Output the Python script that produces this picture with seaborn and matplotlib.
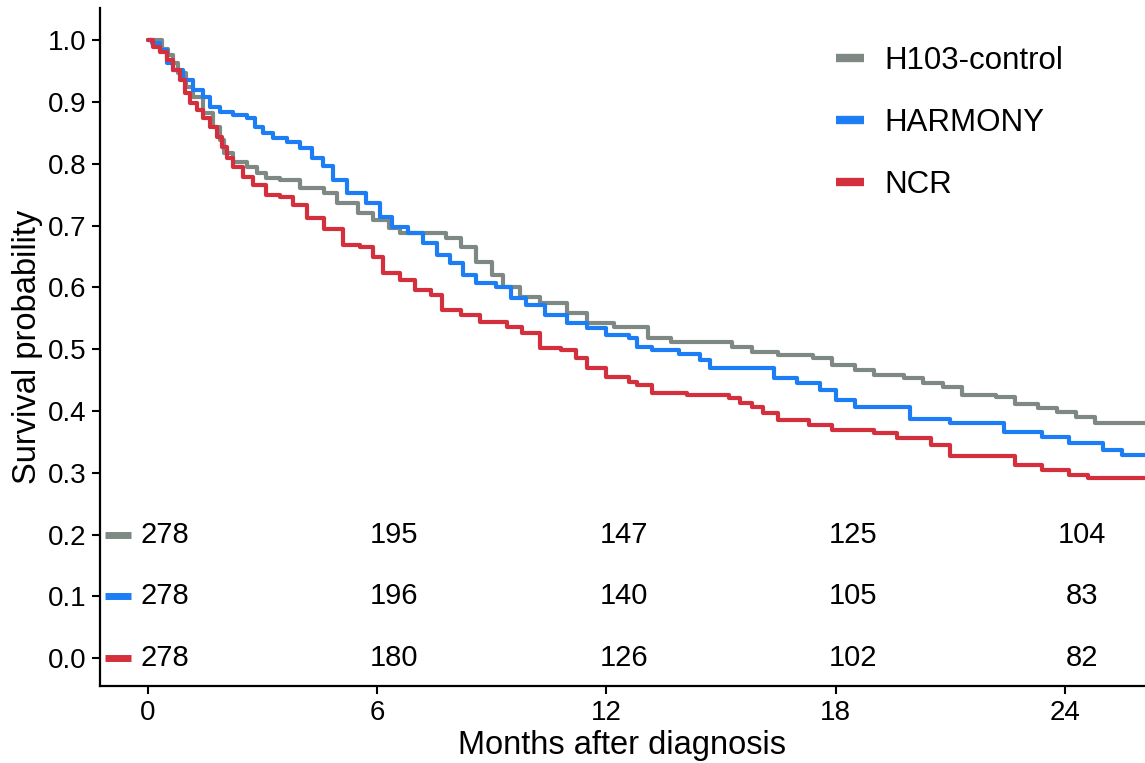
import numpy as np
import pandas as pd
import matplotlib
matplotlib.use("Agg")
import matplotlib.pyplot as plt
import seaborn as sns

# Kaplan-Meier curves (months, survival probability)
groups = ["H103-control", "HARMONY", "NCR"]
colors = ["#7e8984", "#1c7df4", "#d42f3d"]

t_ctrl = [0, 0.37, 0.52, 0.65, 0.79, 1.0, 1.18, 1.44, 1.7, 1.88, 2.0, 2.23, 2.6, 2.85,
          3.1, 3.45, 3.98, 4.6, 4.95, 5.5, 5.9, 6.3, 6.6, 7.8, 8.2, 8.6, 9.0, 9.3, 9.74,
          10.26, 10.97, 11.5, 12.2, 13.1, 13.7, 15.3, 15.8, 16.5, 17.4, 17.9, 18.5, 19.0,
          19.8, 20.3, 20.8, 21.3, 22.2, 22.7, 23.3, 23.8, 24.3, 24.8, 26.1]
s_ctrl = [1.0, 0.985, 0.976, 0.963, 0.947, 0.924, 0.908, 0.882, 0.859, 0.838, 0.817,
          0.803, 0.795, 0.785, 0.777, 0.773, 0.76, 0.752, 0.736, 0.72, 0.709, 0.696,
          0.688, 0.68, 0.665, 0.641, 0.62, 0.60, 0.584, 0.574, 0.558, 0.542, 0.536,
          0.518, 0.511, 0.503, 0.495, 0.49, 0.485, 0.474, 0.466, 0.458, 0.453, 0.445,
          0.439, 0.426, 0.422, 0.412, 0.405, 0.398, 0.39, 0.38, 0.38]

t_harm = [0, 0.1, 0.31, 0.5, 0.65, 0.92, 1.18, 1.44, 1.62, 1.88, 2.23, 2.6, 2.8, 3.0,
          3.28, 3.63, 3.98, 4.3, 4.58, 4.85, 5.2, 5.7, 6.07, 6.4, 6.8, 7.2, 7.56, 7.9,
          8.25, 8.6, 9.1, 9.5, 9.9, 10.4, 10.97, 11.5, 12.0, 12.6, 12.8, 13.2, 13.9,
          14.45, 14.7, 16.4, 17.0, 17.6, 18.0, 18.5, 19.95, 21.0, 22.4, 23.4, 24.1, 25.0,
          25.5, 26.1]
s_harm = [1.0, 0.995, 0.984, 0.963, 0.951, 0.935, 0.919, 0.908, 0.892, 0.884, 0.879,
          0.874, 0.859, 0.85, 0.841, 0.835, 0.825, 0.809, 0.797, 0.773, 0.752, 0.736,
          0.714, 0.697, 0.688, 0.671, 0.652, 0.639, 0.62, 0.607, 0.60, 0.582, 0.571,
          0.555, 0.542, 0.534, 0.523, 0.518, 0.503, 0.498, 0.493, 0.482, 0.469, 0.453,
          0.445, 0.434, 0.417, 0.406, 0.387, 0.38, 0.366, 0.358, 0.348, 0.337, 0.328,
          0.328]

t_ncr = [0, 0.13, 0.31, 0.5, 0.65, 0.84, 0.97, 1.1, 1.28, 1.44, 1.62, 1.8, 1.94, 2.07,
         2.23, 2.5, 2.75, 3.1, 3.45, 3.8, 4.15, 4.6, 5.1, 5.55, 5.9, 6.15, 6.6, 7.0, 7.4,
         7.7, 8.2, 8.7, 9.4, 9.8, 10.26, 10.8, 11.2, 11.5, 12.0, 12.6, 12.8, 13.2, 14.1,
         15.2, 15.5, 15.8, 16.1, 16.5, 17.3, 17.9, 19.0, 19.6, 20.5, 21.0, 22.7, 23.4,
         24.1, 24.6, 26.1]
s_ncr = [1.0, 0.989, 0.981, 0.968, 0.951, 0.935, 0.914, 0.898, 0.887, 0.874, 0.859,
         0.843, 0.827, 0.81, 0.795, 0.778, 0.766, 0.749, 0.746, 0.733, 0.712, 0.694,
         0.668, 0.665, 0.649, 0.623, 0.612, 0.595, 0.587, 0.563, 0.555, 0.544, 0.536,
         0.526, 0.502, 0.498, 0.485, 0.469, 0.455, 0.447, 0.442, 0.429, 0.426, 0.421,
         0.413, 0.406, 0.396, 0.385, 0.377, 0.369, 0.364, 0.356, 0.345, 0.327, 0.312,
         0.304, 0.296, 0.291, 0.291]

# numbers at risk
risk_times = [0, 6, 12, 18, 24]
risk_ctrl = [278, 195, 147, 125, 104]
risk_harm = [278, 196, 140, 105, 83]
risk_ncr = [278, 180, 126, 102, 82]
risk_rows = [risk_ctrl, risk_harm, risk_ncr]
risk_levels = [0.2, 0.1, 0.0]

df = pd.concat([
    pd.DataFrame({"time": t_ctrl, "surv": s_ctrl, "group": groups[0]}),
    pd.DataFrame({"time": t_harm, "surv": s_harm, "group": groups[1]}),
    pd.DataFrame({"time": t_ncr, "surv": s_ncr, "group": groups[2]}),
])

sns.set_style("white")
plt.rcParams["font.family"] = ["Liberation Sans", "DejaVu Sans"]
plt.rcParams["text.color"] = "black"
plt.rcParams["axes.labelcolor"] = "black"

fig = plt.figure(figsize=(11.45, 7.63), dpi=100)
ax = fig.add_axes([0.0873, 0.1009, 0.9127, 0.8886])

sns.lineplot(data=df, x="time", y="surv", hue="group", hue_order=groups,
             palette=colors, drawstyle="steps-post", linewidth=3, sort=False,
             estimator=None, ax=ax)

# risk table inside the plot
for row, level, col in zip(risk_rows, risk_levels, colors):
    ax.plot([-1.12, -0.45], [level, level], color=col, linewidth=5, solid_capstyle="butt")
    for tt, n in zip(risk_times, row):
        ax.text(tt + 0.45, level, str(n), ha="center", va="center", fontsize=21, color="black")

ax.set_xlim(-1.257, 26.1)
ax.set_ylim(-0.045, 1.052)
ax.set_xticks(risk_times)
ax.set_yticks(np.arange(0, 1.01, 0.1))
ax.set_yticklabels([f"{v:.1f}" for v in np.arange(0, 1.01, 0.1)])
ax.tick_params(axis="both", labelsize=20, length=6, width=1.5, direction="out",
               left=True, bottom=True, colors="black", pad=4)
for side in ["top", "right"]:
    ax.spines[side].set_visible(False)
for side in ["left", "bottom"]:
    ax.spines[side].set_color("black")
    ax.spines[side].set_linewidth(1.6)

ax.set_xlabel("Months after diagnosis", fontsize=23.5, labelpad=3, color="black")
ax.set_ylabel("Survival probability", fontsize=23.5, labelpad=3, color="black")

leg = ax.legend(loc="upper left", bbox_to_anchor=(0.677, 0.986), frameon=False,
                fontsize=22.5, handlelength=0.9, handletextpad=0.65, labelspacing=1.03)
for h in leg.get_lines():
    h.set_linewidth(6)
    h.set_solid_capstyle("butt")
for txt in leg.get_texts():
    txt.set_color("black")

fig.savefig("out.png", dpi=100)
